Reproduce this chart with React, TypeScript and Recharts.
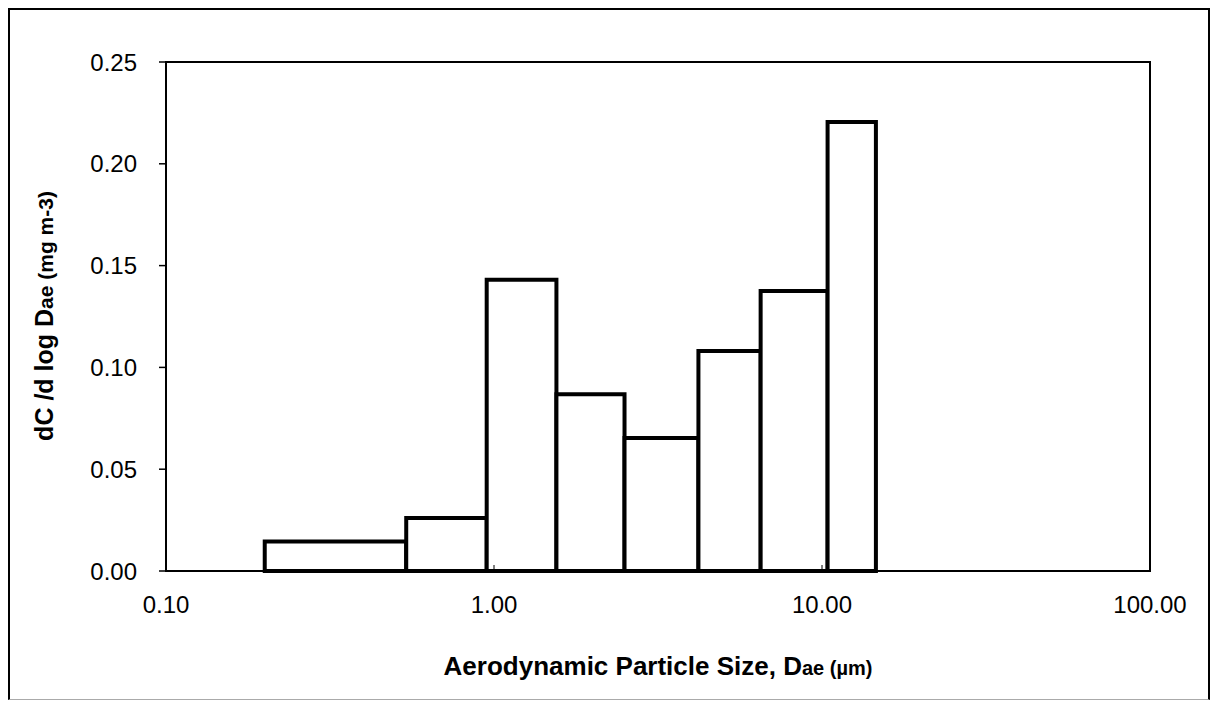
import React from 'react';
import { ComposedChart, XAxis, YAxis, ReferenceArea, Scatter, Label } from 'recharts';

// bin edges of the impactor stages (µm) and dC/dlogDae for each bin
const binEdges = [0.2, 0.54, 0.95, 1.55, 2.5, 4.2, 6.5, 10.4, 14.6];
const binValues = [0.0145, 0.026, 0.143, 0.0868, 0.0653, 0.108, 0.1375, 0.2205];
const xTicks = [0.1, 1, 10, 100];
const yTicks = [0, 0.05, 0.1, 0.15, 0.2, 0.25];

const bars = binValues.map((v, i) => ({ x1: binEdges[i], x2: binEdges[i + 1], y: v }));
const points = bars.map(b => ({ x: Math.sqrt(b.x1 * b.x2), y: b.y }));

const font = '"Liberation Sans", Arial, sans-serif';

const XTitle = (props: any) => {
  const vb = props.viewBox || { x: 0, y: 0, width: 0 };
  return (
    <text x={vb.x + vb.width / 2} y={vb.y + 104} textAnchor="middle" fontFamily={font} fontWeight="bold" fill="#000">
      <tspan fontSize={26}>Aerodynamic Particle Size, D</tspan>
      <tspan fontSize={20}>ae (µm)</tspan>
    </text>
  );
};

const YTitle = () => {
  const cx = 45;
  const cy = 308;
  return (
    <text x={cx} y={cy} transform={`rotate(-90 ${cx} ${cy})`} textAnchor="middle" fontFamily={font} fontWeight="bold" fill="#000">
      <tspan fontSize={25}>dC /d log D</tspan>
      <tspan fontSize={21}>ae (mg m-3)</tspan>
    </text>
  );
};

export default function App() {
  return (
    <div style={{ position: 'relative', width: 1202, height: 692 }}>
      <div
        style={{
          position: 'absolute',
          inset: 0,
          borderLeft: '2px solid #000',
          borderTop: '2px solid #000',
          borderRight: '2px solid #000',
          borderBottom: '1px solid #aaa',
          boxSizing: 'border-box',
        }}
      />
      <ComposedChart
        width={1202}
        height={692}
        data={points}
        margin={{ top: 54, right: 60, bottom: 99, left: 0 }}
        style={{ position: 'absolute', left: 0, top: 0 }}
      >
        <XAxis
          dataKey="x"
          type="number"
          scale="log"
          domain={[0.1, 100]}
          allowDataOverflow
          ticks={xTicks}
          tickFormatter={(v: number) => v.toFixed(2)}
          height={30}
          tickSize={-6}
          tickMargin={31}
          axisLine={{ stroke: '#000', strokeWidth: 2 }}
          tickLine={{ stroke: '#000', strokeWidth: 1 }}
          tick={{ fill: '#000', fontSize: 24, fontFamily: font }}
        >
          <Label content={XTitle} />
        </XAxis>
        <YAxis
          type="number"
          domain={[0, 0.25]}
          ticks={yTicks}
          width={158}
          tickFormatter={(v: number) => v.toFixed(2)}
          tickSize={7}
          tickMargin={22}
          axisLine={{ stroke: '#000', strokeWidth: 2 }}
          tickLine={{ stroke: '#000', strokeWidth: 1.5 }}
          tick={{ fill: '#000', fontSize: 24, fontFamily: font }}
        >
          <Label content={YTitle} />
        </YAxis>
        <ReferenceArea x1={0.1} x2={100} y1={0} y2={0.25} fill="none" stroke="#000" strokeWidth={2} />
        {bars.map((b, i) => (
          <ReferenceArea
            key={i}
            x1={b.x1}
            x2={b.x2}
            y1={0}
            y2={b.y}
            fill="#fff"
            fillOpacity={1}
            stroke="#000"
            strokeWidth={4}
          />
        ))}
        <Scatter dataKey="y" shape={() => null} isAnimationActive={false} />
      </ComposedChart>
    </div>
  );
}
